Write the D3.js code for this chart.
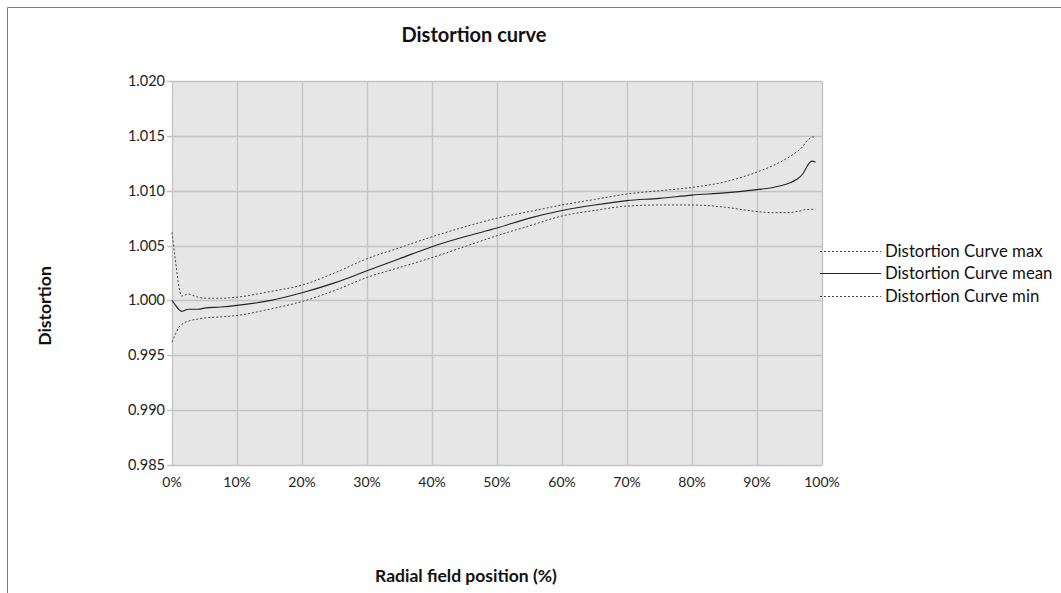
<!DOCTYPE html>
<html><head><meta charset="utf-8">
<script src="https://cdn.jsdelivr.net/npm/d3@7"></script>
<style>body{margin:0;background:#fff}svg{display:block;font-family:Lato,"Open Sans",sans-serif}</style>
</head><body>
<svg id="c" width="1061" height="593"></svg>
<script>
const xPos = [0,0.5,1,1.5,2,2.5,3,4,5,7.5,10,15,20,25,30,35,40,45,50,55,60,65,70,75,80,85,90,92.5,95,96,97,97.5,98,98.5,99];
const maxVals = [1.0062,1.0038,1.0015,1.0004,1.0005,1.0006,1.0005,1.0003,1.0002,1.0002,1.0003,1.0008,1.0014,1.0025,1.0038,1.0048,1.0058,1.0067,1.0075,1.0081,1.0087,1.0092,1.0097,1.0100,1.0103,1.0108,1.0117,1.0123,1.0131,1.0135,1.0140,1.0144,1.0147,1.0149,1.0149];
const meanVals = [1.0000,0.9996,0.9992,0.9990,0.9991,0.9992,0.9992,0.9992,0.9993,0.9994,0.99955,0.99998,1.0007,1.0016,1.0027,1.0038,1.0049,1.0058,1.0066,1.0075,1.0082,1.0087,1.0091,1.0093,1.0096,1.0098,1.0101,1.0103,1.0107,1.0110,1.0115,1.0120,1.0125,1.0127,1.0126];
const minVals = [0.9962,0.9969,0.9975,0.9978,0.9980,0.9981,0.9982,0.9983,0.9984,0.9985,0.99863,0.9992,0.9999,1.0009,1.0021,1.0030,1.0039,1.0049,1.0059,1.0068,1.0077,1.0082,1.0086,1.0087,1.0087,1.0085,1.0081,1.0080,1.0080,1.0081,1.0082,1.0083,1.0083,1.0083,1.0083];
const xTicks = [0,10,20,30,40,50,60,70,80,90,100];
const yTicks = [0.985,0.990,0.995,1.000,1.005,1.010,1.015,1.020];
const seriesNames = ["Distortion Curve max","Distortion Curve mean","Distortion Curve min"];

const svg = d3.select("#c");
const L=172,R=822,T=81,B=465;
const x = d3.scaleLinear().domain([0,100]).range([L,R]);
const y = d3.scaleLinear().domain([0.985,1.020]).range([B,T]);

svg.append("path").attr("d","M7.5,600V7.5H1070").attr("fill","none").attr("stroke","#7f7f7f").attr("stroke-width",1);

svg.append("rect").attr("x",L).attr("y",T).attr("width",R-L).attr("height",B-T).attr("fill","#e6e6e6");

const g = svg.append("g");
g.selectAll(".hg").data(yTicks).join("line")
  .attr("x1",L-5).attr("x2",R).attr("y1",d=>Math.round(y(d))+0.5).attr("y2",d=>Math.round(y(d))+0.5)
  .attr("stroke","#c4c4c4").attr("stroke-width",1.3);
g.selectAll(".vg").data(xTicks).join("line")
  .attr("x1",d=>Math.round(x(d))+0.5).attr("x2",d=>Math.round(x(d))+0.5).attr("y1",T).attr("y2",B)
  .attr("stroke","#c4c4c4").attr("stroke-width",1.3);

g.selectAll(".yl").data(yTicks).join("text")
  .attr("x",L-7).attr("y",d=>y(d)+5).attr("text-anchor","end")
  .attr("font-size",14.5).attr("fill","#222").text(d=>d3.format(".3f")(d));
g.selectAll(".xl").data(xTicks).join("text")
  .attr("x",d=>x(d)).attr("y",B+22).attr("text-anchor","middle")
  .attr("font-size",14).attr("fill","#222").text(d=>d+"%");

const line = d3.line().x((d,i)=>x(xPos[i])).y(d=>y(d)).curve(d3.curveMonotoneX);
const series = [
  {vals:maxVals, dash:"2,2", color:"#444", w:1},
  {vals:meanVals, dash:null, color:"#222", w:1.1},
  {vals:minVals, dash:"2,2", color:"#444", w:1}
];
series.forEach(s=>{
  svg.append("path").attr("d",line(s.vals)).attr("fill","none")
    .attr("stroke",s.color).attr("stroke-width",s.w).attr("stroke-dasharray",s.dash);
});

const ly=[251,273,296];
seriesNames.forEach((n,i)=>{
  svg.append("line").attr("x1",820).attr("x2",881).attr("y1",ly[i]+0.5).attr("y2",ly[i]+0.5)
    .attr("stroke",series[i].color).attr("stroke-width",1).attr("stroke-dasharray",series[i].dash);
  svg.append("text").attr("x",885).attr("y",ly[i]+6).attr("font-size",16.8).attr("fill","#111").text(n);
});

svg.append("text").attr("x",474).attr("y",42).attr("text-anchor","middle").attr("font-size",20).attr("font-weight","bold").attr("fill","#111").text("Distortion curve");
svg.append("text").attr("x",466).attr("y",582).attr("text-anchor","middle").attr("font-size",17.5).attr("font-weight","bold").attr("fill","#111").text("Radial field position (%)");
svg.append("text").attr("transform","translate(51,306) rotate(-90)").attr("text-anchor","middle").attr("font-size",17.5).attr("font-weight","bold").attr("fill","#111").text("Distortion");
</script>
</body></html>
